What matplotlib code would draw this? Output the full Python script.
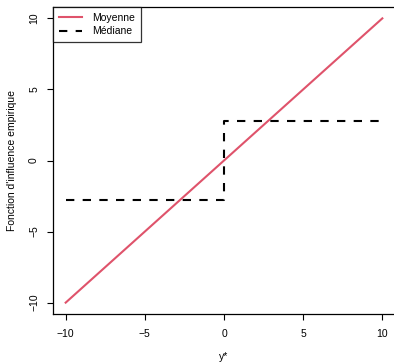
import matplotlib
matplotlib.use("Agg")
import matplotlib.pyplot as plt
import numpy as np

plt.rcParams['font.family'] = ['Liberation Sans', 'DejaVu Sans']

# donnees
y_star = [-10, 10]
moyenne = [-10, 10]
med_x = [-10, 0, 0, 10]
med_y = [-2.78, -2.78, 2.78, 2.78]
ticks = [-10, -5, 0, 5, 10]

fig = plt.figure(figsize=(3.94, 3.62), dpi=100)
ax = fig.add_axes([53/394, 48/362, 342/394, 307/362])

ax.plot(y_star, moyenne, color='#DF536B', lw=1.5, label='Moyenne')
ax.plot(med_x, med_y, color='black', lw=1.5, ls=(0, (4, 4)), label='Médiane')

ax.set_xlim(-10.8, 10.8)
ax.set_ylim(-10.8, 10.8)
ax.set_xticks(ticks)
ax.set_yticks(ticks)
ax.set_xticklabels(['\u221210', '\u22125', '0', '5', '10'], fontsize=7.5)
ax.set_yticklabels(['\u221210', '\u22125', '0', '5', '10'], fontsize=7.5,
                   rotation=90, va='center')
ax.tick_params(direction='out', length=4, width=0.8)
ax.tick_params(axis='x', pad=7)
ax.tick_params(axis='y', pad=6)
for s in ax.spines.values():
    s.set_linewidth(0.9)

ax.set_xlabel('y*', fontsize=7.5, labelpad=9)
ax.set_ylabel("Fonction d'influence empirique", fontsize=7.5, labelpad=9)

leg = ax.legend(loc='upper left', fontsize=7.5, frameon=True, fancybox=False,
                edgecolor='black', borderaxespad=0, handlelength=2.2,
                borderpad=0.55, labelspacing=0.35, handletextpad=1.0)
leg.get_frame().set_linewidth(0.9)

fig.savefig('out.png', dpi=100)
